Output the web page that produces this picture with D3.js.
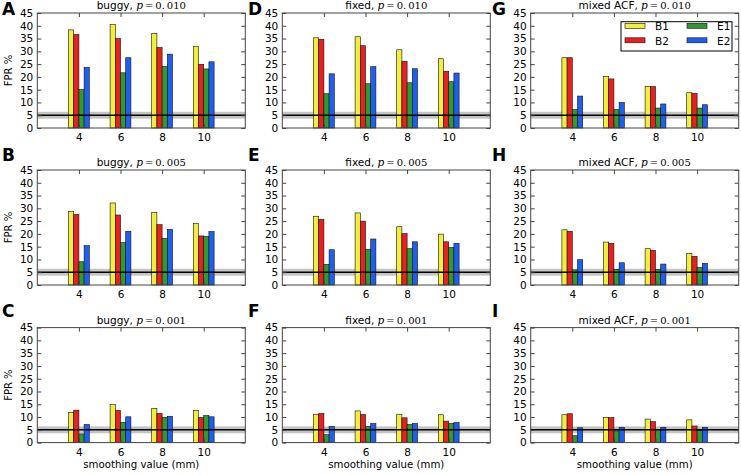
<!DOCTYPE html>
<html>
<head>
<meta charset="utf-8">
<script src="https://cdn.jsdelivr.net/npm/d3@7"></script>
<style>
  html, body { margin: 0; padding: 0; background: #fff; }
  svg { display: block; }
  text { font-family: "DejaVu Sans", sans-serif; }
</style>
</head>
<body>
<svg id="chart" width="741" height="474"></svg>
<script>
// ---------- data ----------
const smoothing = [4, 6, 8, 10];
const seriesNames = ["B1", "B2", "E1", "E2"];
const seriesColors = ["#f2ef3a", "#e8201f", "#2f9a2f", "#1f5ff0"];
const yTicks = [0, 5, 10, 15, 20, 25, 30, 35, 40, 45];
const panelLetters = ["A", "B", "C", "D", "E", "F", "G", "H", "I"];
const methods = ["buggy", "fixed", "mixed ACF"];
const pValues = ["0.010", "0.005", "0.001"];

// values per panel: rows = B1, B2, E1, E2; columns = smoothing 4, 6, 8, 10
const buggy_p010 = [[38.4, 40.5, 37.0, 32.0], [36.6, 35.0, 31.5, 24.9], [15.0, 21.6, 24.1, 23.1], [23.7, 27.5, 28.9, 25.9]];
const buggy_p005 = [[28.7, 32.1, 28.4, 24.0], [27.6, 27.4, 23.6, 19.2], [9.1, 16.6, 18.3, 19.0], [15.4, 21.0, 21.8, 20.9]];
const buggy_p001 = [[11.8, 14.9, 13.4, 12.6], [12.7, 12.6, 11.4, 9.8], [3.4, 7.9, 9.9, 10.6], [7.1, 10.1, 10.3, 10.1]];
const fixed_p010 = [[35.3, 35.7, 30.6, 27.1], [34.7, 32.2, 26.1, 22.2], [13.4, 17.3, 17.7, 18.1], [21.2, 24.0, 23.2, 21.5]];
const fixed_p005 = [[26.9, 28.2, 22.8, 19.9], [25.7, 25.0, 20.1, 16.9], [8.1, 14.0, 14.2, 14.7], [13.8, 18.0, 16.9, 16.3]];
const fixed_p001 = [[11.1, 12.4, 11.1, 10.9], [11.4, 11.0, 9.7, 8.4], [3.1, 6.4, 7.1, 7.5], [6.3, 7.5, 7.5, 7.9]];
const mixed_p010 = [[27.5, 20.2, 16.3, 13.8], [27.5, 19.2, 16.2, 13.6], [7.2, 7.2, 7.8, 7.8], [12.5, 10.0, 9.4, 9.1]];
const mixed_p005 = [[21.6, 16.8, 14.2, 12.3], [21.0, 16.3, 13.6, 11.2], [5.9, 6.1, 6.1, 6.8], [9.9, 8.7, 8.2, 8.5]];
const mixed_p001 = [[10.9, 9.8, 9.2, 8.9], [11.3, 9.8, 8.2, 6.5], [2.7, 4.6, 5.1, 4.8], [5.8, 6.0, 6.0, 6.0]];

const nominal = 5;
const ciBand = [3.65, 6.35];

const panelData = [
  [buggy_p010, buggy_p005, buggy_p001],
  [fixed_p010, fixed_p005, fixed_p001],
  [mixed_p010, mixed_p005, mixed_p001]
];

// ---------- layout ----------
const svg = d3.select("#chart");
const colLefts = [37.3, 282.3, 530.7];
const rowTops = [13, 170, 327.6];
const pw = 208, ph = 115;
const frameColor = "#444";

for (let c = 0; c < 3; c++) {
  for (let r = 0; r < 3; r++) {
    const left = colLefts[c], top = rowTops[r];
    const data = panelData[c][r];
    const x = d3.scaleLinear().domain([2, 12]).range([left, left + pw]);
    const y = d3.scaleLinear().domain([0, 45]).range([top + ph, top]);
    const g = svg.append("g");
    const bw = x(0.25) - x(0);

    // CI band
    g.append("rect")
      .attr("x", x(2)).attr("width", x(12) - x(2))
      .attr("y", y(ciBand[1])).attr("height", y(ciBand[0]) - y(ciBand[1]))
      .attr("fill", "#c4c4c4");

    // bars
    seriesNames.forEach((s, i) => {
      g.selectAll(null).data(smoothing).enter().append("rect")
        .attr("x", (d) => x(d - 0.5 + 0.25 * i))
        .attr("width", bw)
        .attr("y", (d, j) => y(data[i][j]))
        .attr("height", (d, j) => y(0) - y(data[i][j]))
        .attr("fill", seriesColors[i])
        .attr("stroke", "#111")
        .attr("stroke-width", 0.6);
    });

    // nominal line
    g.append("line")
      .attr("x1", x(2)).attr("x2", x(12))
      .attr("y1", y(nominal)).attr("y2", y(nominal))
      .attr("stroke", "#000").attr("stroke-width", 1.6);

    // axes
    const ax = (axis, tr) => {
      const a = g.append("g").attr("transform", tr).call(axis);
      a.select(".domain").remove();
      a.selectAll(".tick line").attr("stroke", frameColor);
      a.selectAll("text").attr("font-size", 10.5).attr("fill", "#000");
      return a;
    };
    ax(d3.axisLeft(y).tickValues(yTicks).tickSize(-4).tickPadding(4), `translate(${left},0)`);
    ax(d3.axisRight(y).tickValues(yTicks).tickSize(-4).tickFormat(""), `translate(${left + pw},0)`);
    ax(d3.axisBottom(x).tickValues(smoothing).tickSize(-4).tickPadding(6), `translate(0,${top + ph})`);
    ax(d3.axisTop(x).tickValues(smoothing).tickSize(-4).tickFormat(""), `translate(0,${top})`);

    // frame
    g.append("rect").attr("x", left).attr("y", top).attr("width", pw).attr("height", ph)
      .attr("fill", "none").attr("stroke", frameColor).attr("stroke-width", 1);

    // title
    const t = g.append("text").attr("x", left + pw / 2).attr("y", top - 4)
      .attr("text-anchor", "middle").attr("font-size", 10.5);
    t.append("tspan").text(methods[c] + ", ");
    t.append("tspan").attr("font-family", "DejaVu Serif, serif").attr("font-style", "italic").text("p");
    t.append("tspan").attr("font-family", "DejaVu Serif, serif").attr("font-size", 10).text("\u2009=\u20090.\u2009" + pValues[r].slice(2));

    // panel letter
    const letterX = [2, 248, 492][c];
    const letterY = [15, 161, 317][r];
    g.append("text").attr("x", letterX).attr("y", letterY)
      .attr("font-size", 17).attr("font-weight", "bold").text(panelLetters[c * 3 + r]);

    // y label
    if (c === 0) {
      g.append("text")
        .attr("transform", `translate(12,${top + ph / 2}) rotate(-90)`)
        .attr("text-anchor", "middle").attr("font-size", 10).text("FPR %");
    }
    // x label
    if (r === 2) {
      g.append("text").attr("x", left + pw / 2).attr("y", 468)
        .attr("text-anchor", "middle").attr("font-size", 10.2).text("smoothing value (mm)");
    }

    // legend
    if (c === 2 && r === 0) {
      const lg = g.append("g");
      lg.append("rect").attr("x", 621).attr("y", 21.7).attr("width", 111).attr("height", 29.3)
        .attr("fill", "#fff").attr("stroke", "#000").attr("stroke-width", 1);
      seriesNames.forEach((s, i) => {
        const col = Math.floor(i / 2), row = i % 2;
        const lx = 625 + col * 62, ly = 23.3 + row * 14.5;
        lg.append("rect").attr("x", lx).attr("y", ly).attr("width", 20).attr("height", 5)
          .attr("fill", seriesColors[i]).attr("stroke", "#111").attr("stroke-width", 0.6);
        lg.append("text").attr("x", lx + 30).attr("y", ly + 7)
          .attr("font-size", 10.5).text(s);
      });
    }
  }
}
</script>
</body>
</html>
